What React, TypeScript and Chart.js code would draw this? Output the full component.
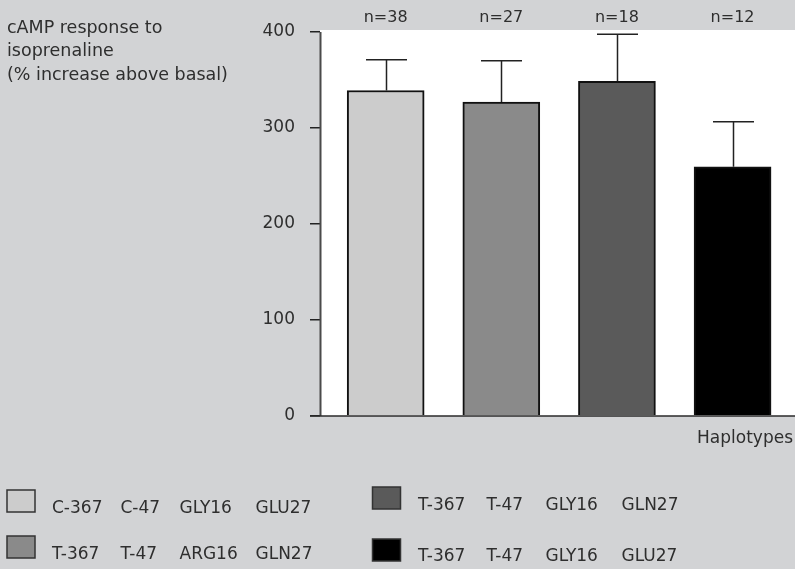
import React, { useEffect, useRef } from "react";
import { Chart, registerables } from "chart.js";

Chart.register(...registerables);

// ---- data ----
const positions = [1, 2, 3, 4];
const meanResponse = [339, 327, 348.5, 259.5];
const errorUpper = [32, 43, 49, 47];
const sampleSizes = ["n=38", "n=27", "n=18", "n=12"];
const barColors = ["#cccccc", "#8a8a8a", "#5a5a5a", "#000000"];
const yTicks = [0, 100, 200, 300, 400];
const legendTokens = [
  ["C-367", "C-47", "GLY16", "GLU27"],
  ["T-367", "T-47", "ARG16", "GLN27"],
  ["T-367", "T-47", "GLY16", "GLN27"],
  ["T-367", "T-47", "GLY16", "GLU27"],
];
const yTitleLines = ["cAMP response to", "isoprenaline", "(% increase above basal)"];
const xTitle = "Haplotypes";

const FONT = "'DejaVu Sans', sans-serif";
const TEXT = "#2e2e2e";
const BG = "#d2d3d5";

// layout of legend items: [boxX, boxY, textX, baselineY]
const legendLayout = [
  [7, 490, 52, 513],
  [7, 536, 52, 559],
  [372.5, 487, 418, 510],
  [372.5, 539, 418, 561],
];
const tokenOffsets = [0, 68.5, 127.5, 203.5];

const decorPlugin = {
  id: "decor",
  beforeDraw(chart: any) {
    const { ctx, chartArea } = chart;
    ctx.save();
    ctx.fillStyle = BG;
    ctx.fillRect(0, 0, chart.width, chart.height);
    ctx.fillStyle = "#ffffff";
    ctx.fillRect(chartArea.left, chartArea.top, chartArea.right - chartArea.left, chartArea.bottom - chartArea.top);
    ctx.restore();
  },
  afterDatasetsDraw(chart: any) {
    const { ctx, chartArea } = chart;
    const xs = chart.scales.x;
    const ys = chart.scales.y;
    ctx.save();
    // error bars
    ctx.strokeStyle = "#222";
    ctx.lineWidth = 1.5;
    positions.forEach((p, i) => {
      const x = Math.round(xs.getPixelForValue(p)) + 0.5;
      const y0 = ys.getPixelForValue(meanResponse[i]);
      const y1 = ys.getPixelForValue(meanResponse[i] + errorUpper[i]);
      ctx.beginPath();
      ctx.moveTo(x, y0);
      ctx.lineTo(x, y1);
      ctx.moveTo(x - 20.5, y1);
      ctx.lineTo(x + 20.5, y1);
      ctx.stroke();
    });
    // axes
    const yZero = ys.getPixelForValue(0);
    const yTop = ys.getPixelForValue(400);
    ctx.strokeStyle = "#4a4a4a";
    ctx.lineWidth = 2;
    ctx.beginPath();
    ctx.moveTo(chartArea.left + 0.5, yTop);
    ctx.lineTo(chartArea.left + 0.5, yZero);
    ctx.stroke();
    ctx.strokeStyle = "#2a2a2a";
    ctx.lineWidth = 1.5;
    ctx.beginPath();
    ctx.moveTo(chartArea.left - 10, yZero);
    ctx.lineTo(chartArea.right, yZero);
    ctx.stroke();
    ctx.restore();
  },
  afterDraw(chart: any) {
    const { ctx } = chart;
    const xs = chart.scales.x;
    ctx.save();
    ctx.fillStyle = TEXT;
    ctx.textBaseline = "alphabetic";
    // y title
    ctx.font = `17.5px ${FONT}`;
    ctx.textAlign = "left";
    yTitleLines.forEach((l, i) => ctx.fillText(l, 7, 32.5 + i * 23.5));
    // n labels
    ctx.font = `16px ${FONT}`;
    ctx.textAlign = "center";
    positions.forEach((p, i) => ctx.fillText(sampleSizes[i], xs.getPixelForValue(p), 22));
    // x title
    ctx.font = `17px ${FONT}`;
    ctx.textAlign = "right";
    ctx.fillText(xTitle, 793, 443);
    // legend
    ctx.textAlign = "left";
    legendTokens.forEach((tokens, i) => {
      const [bx, by, tx, ty] = legendLayout[i];
      ctx.fillStyle = barColors[i];
      ctx.fillRect(bx, by, 28, 22);
      ctx.strokeStyle = "#333";
      ctx.lineWidth = 1.5;
      ctx.strokeRect(bx, by, 28, 22);
      ctx.fillStyle = TEXT;
      tokens.forEach((t, j) => ctx.fillText(t, tx + tokenOffsets[j], ty));
    });
    ctx.restore();
  },
};

export default function App() {
  const ref = useRef<HTMLCanvasElement | null>(null);
  useEffect(() => {
    if (!ref.current) return;
    const chart = new Chart(ref.current, {
      type: "bar",
      data: {
        datasets: [
          {
            data: positions.map((p, i) => ({ x: p, y: meanResponse[i] })),
            backgroundColor: barColors,
            borderColor: "#111",
            borderWidth: 2,
            barThickness: 77,
          } as any,
        ],
      },
      options: {
        responsive: false,
        animation: false,
        devicePixelRatio: 1,
        layout: { padding: { top: 30, bottom: 153, left: 0, right: 0 } },
        plugins: { legend: { display: false }, tooltip: { enabled: false }, title: { display: false } },
        scales: {
          x: { type: "linear", min: 0.432, max: 4.54, offset: false, display: false },
          y: {
            min: 0,
            max: 402,
            afterFit: (scale: any) => {
              scale.width = 320;
            },
            afterBuildTicks: (scale: any) => {
              scale.ticks = yTicks.map((v) => ({ value: v }));
            },
            border: { display: false },
            grid: { drawOnChartArea: false, drawTicks: true, tickLength: 10, color: "#222", lineWidth: 1.5 },
            ticks: { color: TEXT, font: { family: FONT, size: 17 }, padding: 15 },
          },
        },
      },
      plugins: [decorPlugin],
    });
    return () => chart.destroy();
  }, []);
  return (
    <div style={{ position: "fixed", left: 0, top: 0, width: 795, height: 569, background: BG }}>
      <canvas ref={ref} width={795} height={569} style={{ display: "block" }} />
    </div>
  );
}
